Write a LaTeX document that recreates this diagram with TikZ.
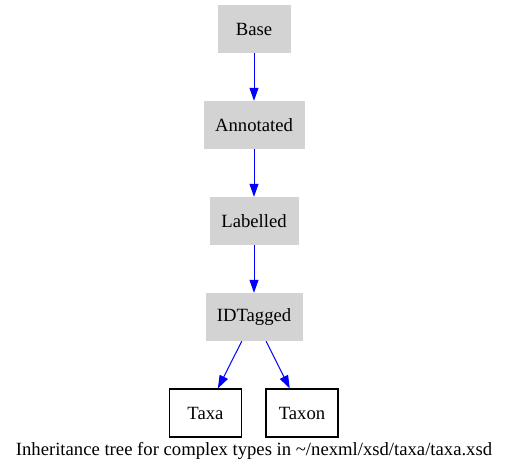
\documentclass[tikz,border=0pt]{standalone}
\usepackage{fontspec}
\setmainfont{Liberation Serif}
\usetikzlibrary{arrows.meta, positioning}
\definecolor{typegray}{RGB}{211,211,211}

\begin{document}
\begin{tikzpicture}[
    x=1pt, y=-1pt,
    font=\fontsize{18.67}{22}\selectfont,
    parent/.style={fill=typegray, minimum height=48pt, inner sep=0pt, align=center},
    leaf/.style={draw, line width=1.1pt, fill=white, minimum width=72pt, minimum height=48pt, inner sep=0pt, align=center},
    inherit/.style={-{Triangle[length=13pt, width=9pt]}, blue, line width=1pt}
]

\useasboundingbox (0, 0) rectangle (508, 472);

% Ancestors
\node[parent, minimum width=73pt] (base) at (254, 29) {Base};
\node[parent, minimum width=101pt] (annot) at (254, 125) {Annotated};
\node[parent, minimum width=89pt] (label) at (254, 221) {Labelled};
\node[parent, minimum width=97pt] (idtag) at (254, 317) {IDTagged};

% Leaves
\node[leaf] (taxa) at (205.5, 413) {Taxa};
\node[leaf] (taxon) at (302, 413) {Taxon};

% Caption
\node (caption) at (254, 451) {Inheritance tree for complex types in \textasciitilde/nexml/xsd/taxa/taxa.xsd};

% Edges
\draw[inherit] (base) -- (annot);
\draw[inherit] (annot) -- (label);
\draw[inherit] (label) -- (idtag);
\draw[inherit] (idtag) -- (taxa);
\draw[inherit] (idtag) -- (taxon);

\end{tikzpicture}
\end{document}
